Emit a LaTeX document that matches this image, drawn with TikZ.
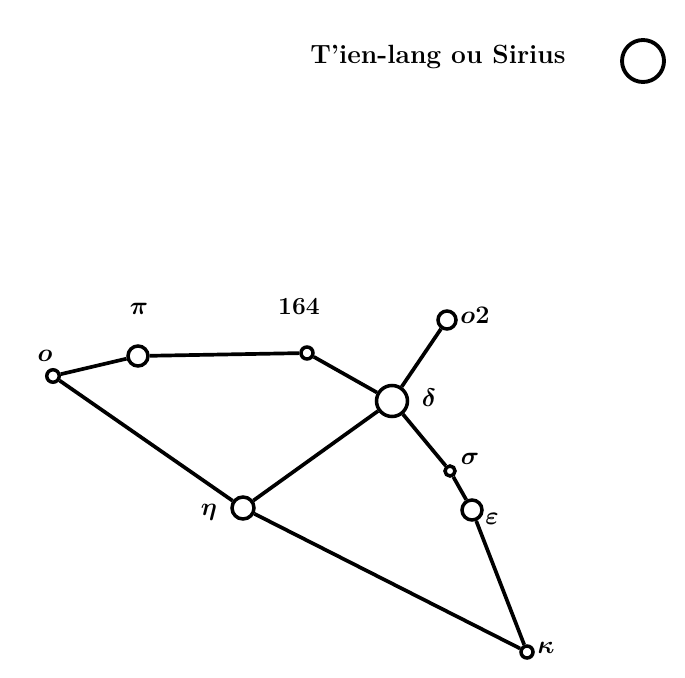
\documentclass[tikz,border=0pt]{standalone}
\usepackage{amsmath, amssymb, bm}
\usepackage{tikz}
\usetikzlibrary{positioning}

\begin{document}
\begin{tikzpicture}[
    x=0.02cm, y=-0.02cm,
    star/.style={circle, draw, line width=2pt, inner sep=0pt, fill=white},
    starname/.style={inner sep=0pt, font=\fontsize{14}{16}\selectfont\bfseries\boldmath},
    link/.style={line width=2.1pt}
]
    \useasboundingbox (0,0) rectangle (685,678);

    % Legend
    \node[starname, font=\fontsize{15}{17}\selectfont\bfseries] (legendtext) at (438,57) {T'ien-lang ou Sirius};
    \node[star, minimum size=0.84cm, line width=2.2pt] (sirius) at (643,61) {};

    % Stars
    \node[star, minimum size=0.25cm] (omicron) at (53,376) {};
    \node[star, minimum size=0.4cm] (pi) at (138,356) {};
    \node[star, minimum size=0.24cm] (s164) at (307,353) {};
    \node[star, minimum size=0.62cm] (delta) at (392,401) {};
    \node[star, minimum size=0.36cm] (otwo) at (447,320) {};
    \node[star, minimum size=0.2cm] (sigma) at (450,471) {};
    \node[star, minimum size=0.4cm] (epsilon) at (472,510) {};
    \node[star, minimum size=0.44cm] (eta) at (243,508) {};
    \node[star, minimum size=0.24cm] (kappa) at (527,652) {};

    % Names
    \node[starname] (omicronname) at (45,356) {$o$};
    \node[starname] (piname) at (139,309) {$\pi$};
    \node[starname] (s164name) at (299,307) {164};
    \node[starname] (deltaname) at (429,398) {$\delta$};
    \node[starname] (otwoname) at (475,315) {$o2$};
    \node[starname] (sigmaname) at (470,459) {$\sigma$};
    \node[starname] (epsilonname) at (492,519) {$\varepsilon$};
    \node[starname] (etaname) at (209,512) {$\eta$};
    \node[starname] (kappaname) at (546,648) {$\kappa$};

    % Links
    \draw[link] (omicron) -- (pi);
    \draw[link] (pi) -- (s164);
    \draw[link] (s164) -- (delta);
    \draw[link] (delta) -- (otwo);
    \draw[link] (delta) -- (sigma);
    \draw[link] (sigma) -- (epsilon);
    \draw[link] (epsilon) -- (kappa);
    \draw[link] (delta) -- (eta);
    \draw[link] (omicron) -- (eta);
    \draw[link] (eta) -- (kappa);
\end{tikzpicture}
\end{document}
